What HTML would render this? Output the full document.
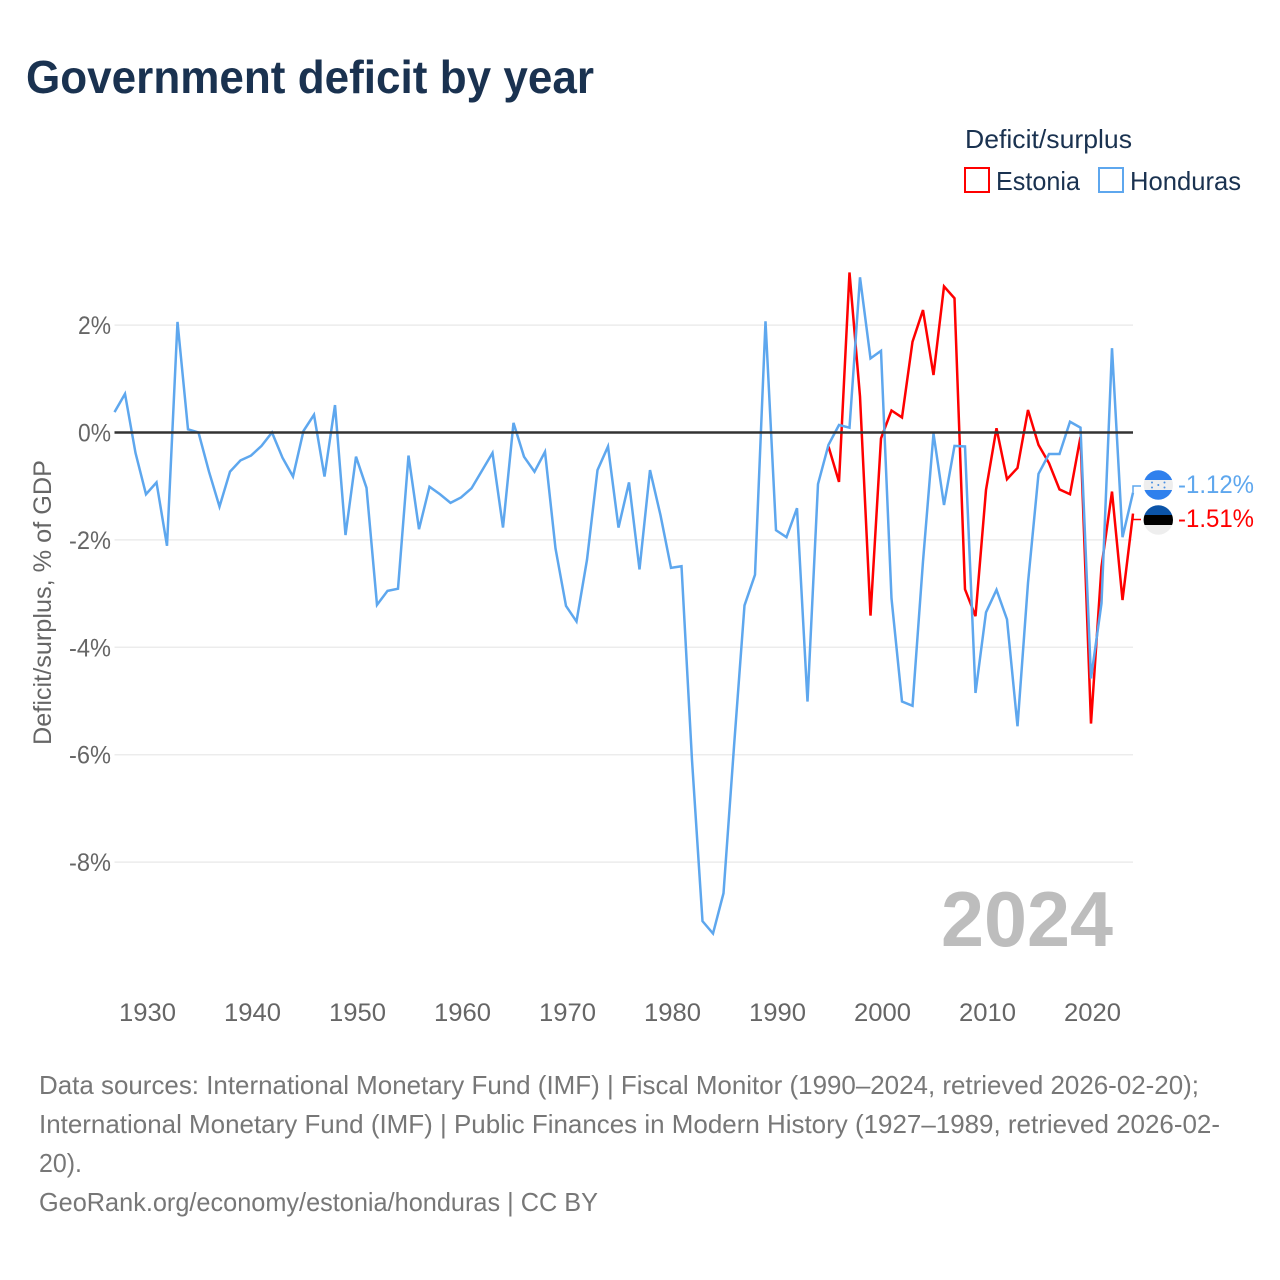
<!DOCTYPE html>
<html lang="en">
<head>
<meta charset="utf-8">
<title>Government deficit by year</title>
<style>
html,body{margin:0;padding:0;background:#fff}
svg{display:block;font-family:"Liberation Sans",sans-serif}
</style>
</head>
<body>
<svg id="chart" width="1280" height="1280" viewBox="0 0 1280 1280" xmlns="http://www.w3.org/2000/svg">
  <rect x="0" y="0" width="1280" height="1280" fill="#fff"/>
  <text x="26" y="93" font-size="46" font-weight="700" fill="#1a3250" textLength="568" lengthAdjust="spacingAndGlyphs">Government deficit by year</text>

  <text x="965" y="148" font-size="26" fill="#1a3250" textLength="167" lengthAdjust="spacingAndGlyphs">Deficit/surplus</text>
  <rect x="965" y="168" width="24" height="24" fill="#fff" stroke="#ff0000" stroke-width="2"/>
  <text x="996" y="190" font-size="26" fill="#1a3250" textLength="84" lengthAdjust="spacingAndGlyphs">Estonia</text>
  <rect x="1099" y="168" width="24" height="24" fill="#fff" stroke="#5ea7ee" stroke-width="2"/>
  <text x="1130" y="190" font-size="26" fill="#1a3250" textLength="111" lengthAdjust="spacingAndGlyphs">Honduras</text>

  <g id="grid"></g>
  <g id="yticks"></g>
  <g id="xticks"></g>
  <text transform="translate(51,745) rotate(-90)" x="0" y="0" font-size="25" fill="#666" textLength="285" lengthAdjust="spacingAndGlyphs">Deficit/surplus, % of GDP</text>
  <text x="941" y="946" font-size="78" font-weight="700" fill="#bdbdbd" textLength="172" lengthAdjust="spacingAndGlyphs">2024</text>

  <g id="series"></g>
  <line id="zero" stroke="#333" stroke-width="2.5"/>

  <defs>
    <clipPath id="clip-hn"><circle cx="1158.3" cy="485" r="14.7"/></clipPath>
    <clipPath id="clip-ee"><circle cx="1158.3" cy="520" r="14.7"/></clipPath>
  </defs>
  <g clip-path="url(#clip-hn)">
    <rect x="1143" y="470" width="31" height="10" fill="#2f80ed"/>
    <rect x="1143" y="480" width="31" height="10" fill="#eeeeee"/>
    <rect x="1143" y="490" width="31" height="10" fill="#2f80ed"/>
    <g fill="#4a90e2">
      <circle cx="1152" cy="482.5" r="1"/><circle cx="1164.5" cy="482.5" r="1"/>
      <circle cx="1158.3" cy="485" r="1"/>
      <circle cx="1152" cy="487.5" r="1"/><circle cx="1164.5" cy="487.5" r="1"/>
    </g>
  </g>
  <g clip-path="url(#clip-ee)">
    <rect x="1143" y="505" width="31" height="10" fill="#0b54a8"/>
    <rect x="1143" y="515" width="31" height="10" fill="#000"/>
    <rect x="1143" y="525" width="31" height="10" fill="#eeeeee"/>
  </g>
  <g id="endlabels"></g>

  <text x="39" y="1094" font-size="26" fill="#777" textLength="1160" lengthAdjust="spacingAndGlyphs">Data sources: International Monetary Fund (IMF) | Fiscal Monitor (1990–2024, retrieved 2026-02-20);</text>
  <text x="39" y="1133" font-size="26" fill="#777" textLength="1181" lengthAdjust="spacingAndGlyphs">International Monetary Fund (IMF) | Public Finances in Modern History (1927–1989, retrieved 2026-02-</text>
  <text x="39" y="1172" font-size="26" fill="#777" textLength="43" lengthAdjust="spacingAndGlyphs">20).</text>
  <text x="39" y="1211" font-size="26" fill="#777" textLength="559" lengthAdjust="spacingAndGlyphs">GeoRank.org/economy/estonia/honduras | CC BY</text>
</svg>
<script>
const yTickValues = [2, 0, -2, -4, -6, -8];
const yTickLabels = ["2%", "0%", "-2%", "-4%", "-6%", "-8%"];
const xTickYears = [1930, 1940, 1950, 1960, 1970, 1980, 1990, 2000, 2010, 2020];
const hondurasStartYear = 1927;
const hondurasValues = [
  0.38, 0.72, -0.38, -1.15, -0.93, -2.11, 2.06, 0.06, 0.00, -0.73,
  -1.38, -0.73, -0.52, -0.43, -0.25, 0.00, -0.47, -0.82, 0.03, 0.33,
  -0.82, 0.51, -1.91, -0.45, -1.03, -3.21, -2.95, -2.91, -0.43, -1.80,
  -1.01, -1.15, -1.31, -1.21, -1.04, -0.71, -0.38, -1.77, 0.18, -0.45,
  -0.73, -0.36, -2.16, -3.23, -3.52, -2.37, -0.70, -0.26, -1.77, -0.93,
  -2.55, -0.70, -1.54, -2.52, -2.49, -6.10, -9.10, -9.33, -8.58, -5.85,
  -3.22, -2.65, 2.07, -1.82, -1.95, -1.41, -5.01, -0.96, -0.23, 0.14,
  0.09, 2.89, 1.38, 1.52, -3.09, -5.01, -5.09, -2.40, -0.02, -1.35,
  -0.25, -0.26, -4.85, -3.35, -2.93, -3.48, -5.47, -2.80, -0.77, -0.40,
  -0.40, 0.20, 0.09, -4.58, -3.18, 1.57, -1.95, -1.12
];
const estoniaStartYear = 1995;
const estoniaValues = [
  -0.26, -0.92, 2.98, 0.67, -3.41, -0.11, 0.41, 0.28, 1.69, 2.28,
  1.07, 2.72, 2.50, -2.92, -3.42, -1.07, 0.08, -0.87, -0.66, 0.42,
  -0.23, -0.57, -1.06, -1.15, -0.08, -5.42, -2.50, -1.10, -3.12, -1.51
];
const hondurasEndLabel = "-1.12%";
const estoniaEndLabel = "-1.51%";

const NS = "http://www.w3.org/2000/svg";
const PLOT_LEFT = 114.5;
const PLOT_RIGHT = 1133;
function xScale(year) { return PLOT_LEFT + (year - 1927) * (PLOT_RIGHT - PLOT_LEFT) / 97; }
function yScale(v) { return 432.5 - v * 53.7; }
function make(tag, attrs, text) {
  const el = document.createElementNS(NS, tag);
  for (const k in attrs) el.setAttribute(k, attrs[k]);
  if (text !== undefined) el.textContent = text;
  return el;
}

const grid = document.getElementById("grid");
const yticks = document.getElementById("yticks");
yTickValues.forEach(function (v, i) {
  if (v !== 0) {
    const gl = make("line", { x1: PLOT_LEFT, x2: PLOT_RIGHT, y1: yScale(v), y2: yScale(v), stroke: "#ececec", "stroke-width": 1.5 });
    
    
    grid.appendChild(gl);
  }
  const label = yTickLabels[i];
  const w = label.length === 2 ? 33 : 42;
  const t = make("text", { x: 111, y: yScale(v) + 9, "text-anchor": "end", "font-size": 25, fill: "#666", textLength: w, lengthAdjust: "spacingAndGlyphs" }, label);
  
  
  yticks.appendChild(t);
});

const xticks = document.getElementById("xticks");
xTickYears.forEach(function (yr) {
  const t = make("text", { x: xScale(yr) + 1.5, y: 1021, "text-anchor": "middle", "font-size": 25, fill: "#666", textLength: 57, lengthAdjust: "spacingAndGlyphs" }, String(yr));
  
  
  xticks.appendChild(t);
});

const zero = document.getElementById("zero");
zero.setAttribute("x1", PLOT_LEFT);
zero.setAttribute("x2", PLOT_RIGHT);
zero.setAttribute("y1", yScale(0));
zero.setAttribute("y2", yScale(0));

function linePoints(startYear, values) {
  return values.map(function (v, i) { return xScale(startYear + i).toFixed(2) + "," + yScale(v).toFixed(2); }).join(" ");
}
const seriesGroup = document.getElementById("series");
const estoniaLine = make("polyline", { points: linePoints(estoniaStartYear, estoniaValues), fill: "none", stroke: "#ff0000", "stroke-width": 2.5, "stroke-linejoin": "miter" });


seriesGroup.appendChild(estoniaLine);
const hondurasLine = make("polyline", { points: linePoints(hondurasStartYear, hondurasValues), fill: "none", stroke: "#5ea7ee", "stroke-width": 2.5, "stroke-linejoin": "miter" });


seriesGroup.appendChild(hondurasLine);

const endGroup = document.getElementById("endlabels");
const hLastY = yScale(hondurasValues[hondurasValues.length - 1]);
const eLastY = yScale(estoniaValues[estoniaValues.length - 1]);
const hLeader = make("polyline", { points: PLOT_RIGHT + "," + hLastY + " " + PLOT_RIGHT + ",486 1141,486", fill: "none", stroke: "#5ea7ee", "stroke-width": 1.5 });


endGroup.appendChild(hLeader);
const eLeader = make("polyline", { points: PLOT_RIGHT + "," + eLastY + " " + PLOT_RIGHT + ",519.5 1141,519.5", fill: "none", stroke: "#ff0000", "stroke-width": 1.5 });


endGroup.appendChild(eLeader);
const hLabel = make("text", { x: 1178, y: 493, "font-size": 25, fill: "#5ea7ee", textLength: 76, lengthAdjust: "spacingAndGlyphs" }, hondurasEndLabel);


endGroup.appendChild(hLabel);
const eLabel = make("text", { x: 1178, y: 527, "font-size": 25, fill: "#ff0000", textLength: 76, lengthAdjust: "spacingAndGlyphs" }, estoniaEndLabel);


endGroup.appendChild(eLabel);
</script>
</body>
</html>
